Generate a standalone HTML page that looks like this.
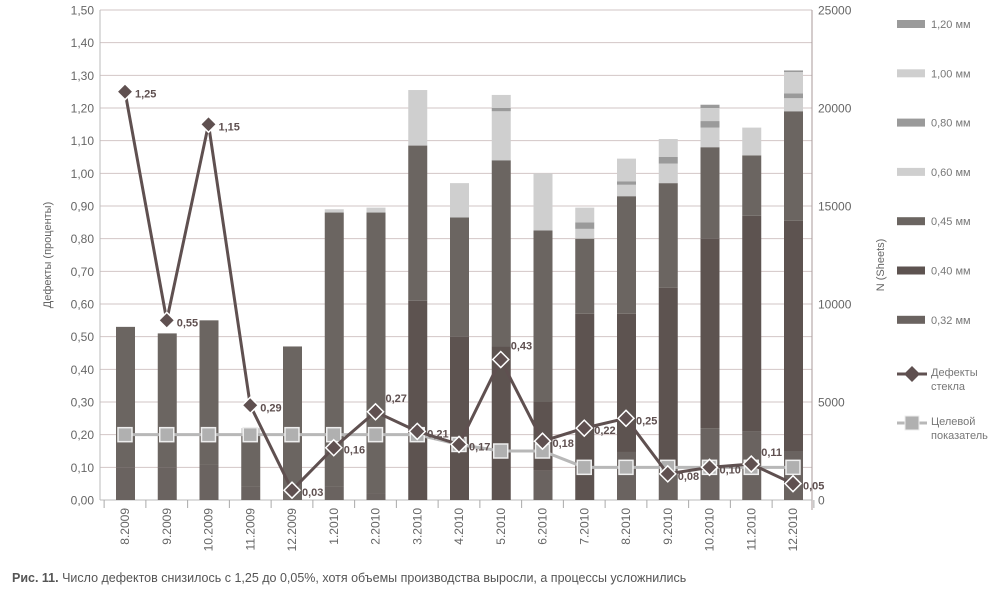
<!DOCTYPE html>
<html><head><meta charset="utf-8"><style>
body{margin:0;background:#fff;width:1000px;height:591px;overflow:hidden;font-family:"Liberation Sans","DejaVu Sans",sans-serif}
svg text{font-family:"Liberation Sans","DejaVu Sans",sans-serif}
</style></head><body>
<svg id="c" width="1000" height="591" xmlns="http://www.w3.org/2000/svg"></svg>
<script>
const s=document.getElementById('c');let h='';
const Y=v=>500-v*326.67;
const X0=125,DX=41.75;
// grid
for(let i=0;i<=15;i++){const y=Y(i/10);h+=`<line x1="100" x2="812" y1="${y}" y2="${y}" stroke="#d2c6c6" stroke-width="1"/>`;
h+=`<text x="94" y="${y+4.5}" font-size="12" fill="#666" text-anchor="end">${(i/10).toFixed(2).replace('.',',')}</text>`;}
for(let i=0;i<=5;i++){const y=500-i*98;h+=`<text x="818" y="${y+4.5}" font-size="12" fill="#666">${i*5000}</text>`;}
h+=`<line x1="100" x2="100" y1="10" y2="500" stroke="#bbb"/><line x1="812" x2="812" y1="10" y2="510" stroke="#a89a9a"/><line x1="100" x2="812" y1="500" y2="500" stroke="#bbb"/>`;
const cats=['8.2009','9.2009','10.2009','11.2009','12.2009','1.2010','2.2010','3.2010','4.2010','5.2010','6.2010','7.2010','8.2010','9.2010','10.2010','11.2010','12.2010'];
for(let i=0;i<=17;i++){const x=X0-DX/2+i*DX;h+=`<line x1="${x}" x2="${x}" y1="500" y2="508" stroke="#aaa"/>`;}
const A='#6a6360',B='#5d5350',C='#6b6561',L='#cfcfcf',M='#9a9a9a';
const bars=[[[0.10,A],[0.53,C]],[[0.10,A],[0.51,C]],[[0.11,A],[0.55,C]],[[0.04,A],[0.20,C],[0.22,L]],[[0.02,A],[0.47,C]],
[[0.04,A],[0.88,C],[0.89,L]],[[0.02,A],[0.88,C],[0.895,L]],[[0.61,B],[1.085,C],[1.255,L]],[[0.50,B],[0.865,C],[0.97,L]],
[[0.47,B],[1.04,C],[1.19,L],[1.20,M],[1.24,L]],[[0.09,A],[0.30,B],[0.825,C],[1.00,L]],[[0.57,B],[0.80,C],[0.83,L],[0.85,M],[0.895,L]],
[[0.147,A],[0.57,B],[0.93,C],[0.965,L],[0.975,M],[1.045,L]],[[0.10,A],[0.65,B],[0.97,C],[1.03,L],[1.05,M],[1.105,L]],
[[0.22,A],[0.80,B],[1.08,C],[1.14,L],[1.16,M],[1.20,L],[1.21,M]],[[0.21,A],[0.87,B],[1.055,C],[1.14,L]],
[[0.15,A],[0.855,B],[1.19,C],[1.23,L],[1.245,M],[1.31,L],[1.315,M]]];
bars.forEach((b,i)=>{const x=X0+i*DX-9;let prev=0;b.forEach(([v,c])=>{h+=`<rect x="${x}" y="${Y(v)}" width="19" height="${Y(prev)-Y(v)}" fill="${c}"/>`;prev=v;});
h+=`<text transform="translate(${X0+i*DX+4},508) rotate(-90)" font-size="12" fill="#666" text-anchor="end">${cats[i]}</text>`;});
const tg=[0.2,0.2,0.2,0.2,0.2,0.2,0.2,0.2,0.17,0.15,0.15,0.10,0.10,0.10,0.10,0.10,0.10];
h+=`<polyline fill="none" stroke="#b8b8b8" stroke-width="3" points="${tg.map((v,i)=>(X0+i*DX)+','+Y(v)).join(' ')}"/>`;
tg.forEach((v,i)=>{h+=`<rect x="${X0+i*DX-7}" y="${Y(v)-7}" width="14" height="14" fill="#b0b0b0" stroke="#eee" stroke-width="1.5"/>`;});
const d=[1.25,0.55,1.15,0.29,0.03,0.16,0.27,0.21,0.17,0.43,0.18,0.22,0.25,0.08,0.10,0.11,0.05];
h+=`<polyline fill="none" stroke="#5f5050" stroke-width="3" points="${d.map((v,i)=>(X0+i*DX)+','+Y(v)).join(' ')}"/>`;
d.forEach((v,i)=>{const x=X0+i*DX,y=Y(v);h+=`<polygon points="${x},${y-8} ${x+8},${y} ${x},${y+8} ${x-8},${y}" fill="#5f5050" stroke="#fff" stroke-width="1.5"/>`;
const dy=(i==15)?-8:(i==6||i==9)?-10:6;
h+=`<text x="${x+10}" y="${y+dy}" font-size="11" font-weight="bold" fill="#5f5050">${v.toFixed(2).replace('.',',')}</text>`;});
h+=`<text transform="translate(51,255) rotate(-90)" font-size="11" fill="#666" text-anchor="middle">Дефекты (проценты)</text>`;
h+=`<text transform="translate(884,265) rotate(-90)" font-size="11" fill="#666" text-anchor="middle">N (Sheets)</text>`;
const lg=[['1,20 мм',M],['1,00 мм',L],['0,80 мм',M],['0,60 мм',L],['0,45 мм',C],['0,40 мм',B],['0,32 мм',A]];
lg.forEach(([t,c],i)=>{const y=24+i*49.3;h+=`<rect x="897" y="${y-4}" width="28" height="8" fill="${c}"/><text x="931" y="${y+4}" font-size="11" fill="#777">${t}</text>`;});
h+=`<line x1="897" x2="927" y1="374" y2="374" stroke="#5f5050" stroke-width="3"/><polygon points="912,366 920,374 912,382 904,374" fill="#5f5050"/><text x="931" y="376" font-size="11" fill="#777">Дефекты</text><text x="931" y="390" font-size="11" fill="#777">стекла</text>`;
h+=`<line x1="897" x2="927" y1="423" y2="423" stroke="#b8b8b8" stroke-width="3"/><rect x="905" y="416" width="14" height="14" fill="#b0b0b0" stroke="#eee"/><text x="931" y="425" font-size="11" fill="#777">Целевой</text><text x="931" y="439" font-size="11" fill="#777">показатель</text>`;
h+=`<text x="12" y="582" font-size="12.5" fill="#555"><tspan font-weight="bold">Рис. 11.</tspan> Число дефектов снизилось с 1,25 до 0,05%, хотя объемы производства выросли, а процессы усложнились</text>`;
s.innerHTML=h;
</script>
</body></html>
